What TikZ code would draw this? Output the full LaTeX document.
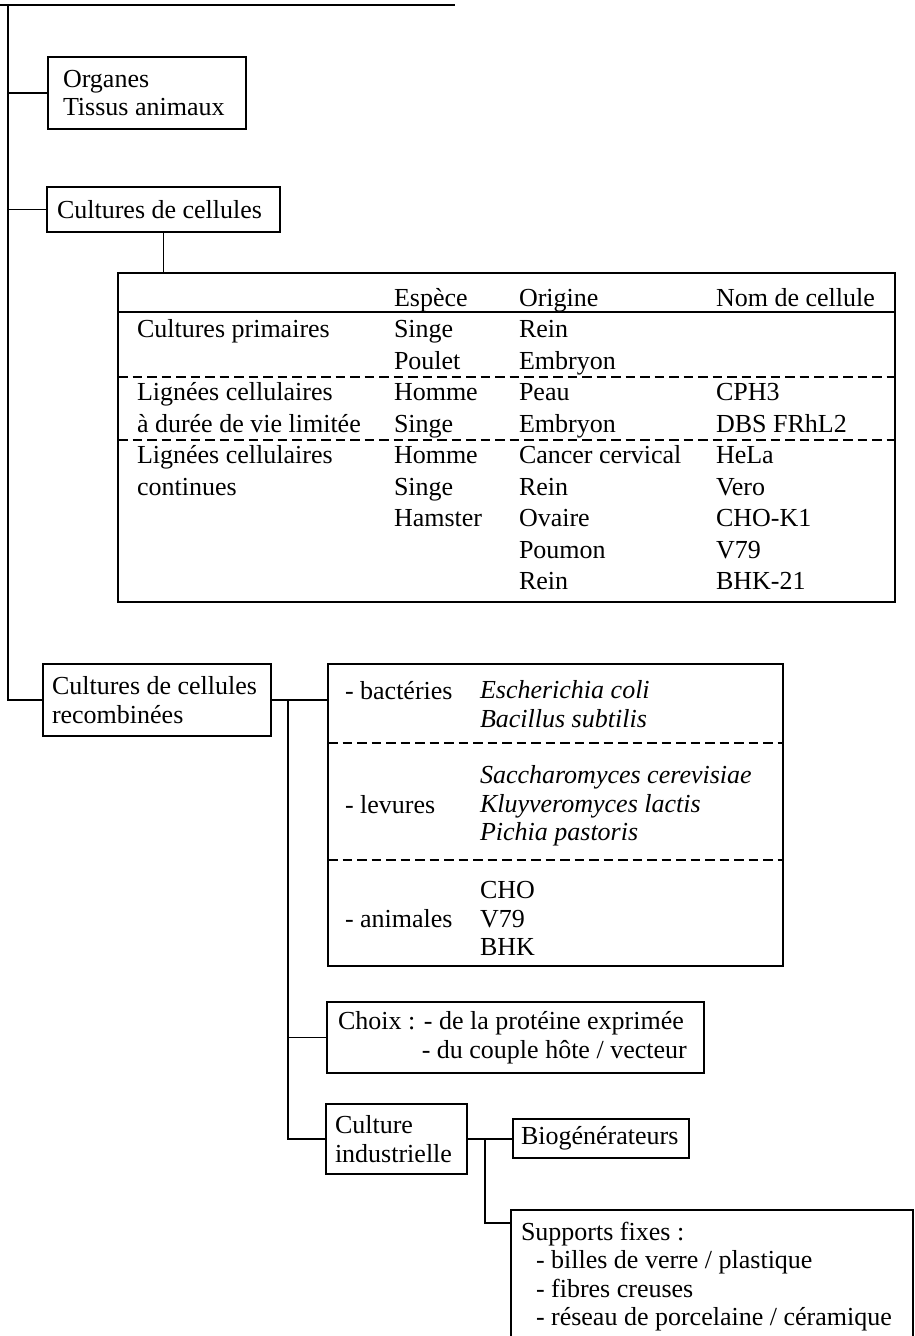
\documentclass[tikz,border=0pt]{standalone}
\usepackage{fontspec}
\setmainfont{Liberation Serif}
\usetikzlibrary{calc}
\def\epais{1.9pt} % line thickness
\tikzset{%
  boite/.style={draw, line width=\epais, anchor=north west, align=flush left,
    inner ysep=0pt, outer sep=0pt},%
  cell/.style={anchor=base west, inner sep=0pt, outer sep=0pt},%
  trait/.style={line width=\epais},%
  tiret/.style={line width=\epais, dash pattern=on 9.5pt off 5pt}%
}

\begin{document}
\begin{tikzpicture}[x=1pt, y=-1pt, font=\fontsize{26}{28.5}\selectfont] % culture supports

    \useasboundingbox (0,0) rectangle (915,1336);

    \def\pas{31.5} % row pitch of the table
    \def\yzero{306} % baseline of the header row

    \coordinate (gauche) at (0,5);
    \coordinate (droite) at (455,5);
    \coordinate (tronc) at (8,5);
    \draw[trait] (gauche) -- (droite);

    % first level
    \node[boite, minimum width=198pt, minimum height=72pt, text width=168pt,
      inner xsep=15pt] (org) at (48,57) {Organes\\Tissus animaux};
    \node[boite, minimum width=233pt, minimum height=45pt, text width=213pt,
      inner xsep=10pt] (cult) at (47,187) {Cultures de cellules};
    \node[boite, minimum width=228pt, minimum height=72pt, text width=210pt,
      inner xsep=9pt] (recomb) at (43,664) {Cultures de cellules\\recombinées};

    \draw[trait] (tronc) |- (recomb.west);
    \draw[trait] (tronc |- org.west) -- (org.west);
    \draw[trait] (tronc |- cult.west) -- (cult.west);

    % table of cell cultures
    \node[boite, minimum width=777pt, minimum height=329pt] (tableau) at (118,273) {};
    \draw[trait] (cult.south) -- (cult.south |- tableau.north);
    \draw[trait] ([yshift=-39pt]tableau.north west) -- ([yshift=-39pt]tableau.north east);
    \draw[tiret] ([yshift=-104pt]tableau.north west) -- ([yshift=-104pt]tableau.north east);
    \draw[tiret] ([yshift=-167pt]tableau.north west) -- ([yshift=-167pt]tableau.north east);

    \node[cell] (hEsp) at (394,\yzero) {Espèce};
    \node[cell] (hOri) at (519,\yzero) {Origine};
    \node[cell] (hNom) at (716,\yzero) {Nom de cellule};

    \foreach \lig/\txt in {1/Cultures primaires, 3/Lignées cellulaires,
      4/à durée de vie limitée, 5/Lignées cellulaires, 6/continues}
      \node[cell] (cat\lig) at (137,\yzero+\lig*\pas) {\txt};
    \foreach \lig/\txt in {1/Singe, 2/Poulet, 3/Homme, 4/Singe, 5/Homme,
      6/Singe, 7/Hamster}
      \node[cell] (esp\lig) at (394,\yzero+\lig*\pas) {\txt};
    \foreach \lig/\txt in {1/Rein, 2/Embryon, 3/Peau, 4/Embryon,
      5/Cancer cervical, 6/Rein, 7/Ovaire, 8/Poumon, 9/Rein}
      \node[cell] (ori\lig) at (519,\yzero+\lig*\pas) {\txt};
    \foreach \lig/\txt in {3/CPH3, 4/DBS FRhL2, 5/HeLa, 6/Vero, 7/CHO-K1,
      8/V79, 9/BHK-21}
      \node[cell] (nom\lig) at (716,\yzero+\lig*\pas) {\txt};

    % host cells
    \node[boite, minimum width=455pt, minimum height=302pt] (hotes) at (328,664) {};
    \draw[tiret] ([yshift=-79pt]hotes.north west) -- ([yshift=-79pt]hotes.north east);
    \draw[tiret] ([yshift=-196pt]hotes.north west) -- ([yshift=-196pt]hotes.north east);
    \draw[trait] (recomb.east) -- (recomb.east -| hotes.west);

    \node[cell] (bact) at (345,699) {- bactéries};
    \node[cell] (ecoli) at (480,698) {\textit{Escherichia coli}};
    \node[cell] (bsub) at (480,727) {\textit{Bacillus subtilis}};
    \node[cell] (lev) at (345,813) {- levures};
    \node[cell] (scer) at (480,783) {\textit{Saccharomyces cerevisiae}};
    \node[cell] (klac) at (480,812) {\textit{Kluyveromyces lactis}};
    \node[cell] (ppas) at (480,840) {\textit{Pichia pastoris}};
    \node[cell] (anim) at (345,927) {- animales};
    \node[cell] (cho) at (480,898) {CHO};
    \node[cell] (v79) at (480,927) {V79};
    \node[cell] (bhk) at (480,955) {BHK};

    % choice and industrial culture
    \node[boite, minimum width=377pt, minimum height=71pt, text width=355pt,
      inner xsep=11pt] (choix) at (327,1002)
      {\mbox{Choix : - de la protéine exprimée}\\
       \mbox{\hphantom{Choix :\ }- du couple hôte / vecteur}};
    \node[boite, minimum width=141pt, minimum height=70pt, text width=123pt,
      inner xsep=9pt] (indus) at (326,1104) {Culture\\industrielle};

    \coordinate (embr) at ($(recomb.east)!0.3!(recomb.east -| hotes.west)$);
    \draw[trait] (embr) |- (indus.west);
    \draw[trait] (embr |- choix.west) -- (choix.west);

    \node[boite, minimum width=176pt, minimum height=39pt, text width=160pt,
      inner xsep=8pt] (bio) at (513,1119) {Biogénérateurs};
    \node[boite, text width=382pt, inner xsep=10pt, inner ysep=12pt] (sup) at (511,1210)
      {Supports fixes :\\
       \hspace*{15pt}- billes de verre / plastique\\
       \hspace*{15pt}- fibres creuses\\
       \hspace*{15pt}- réseau de porcelaine / céramique};

    \draw[trait] (indus.east) -- (indus.east -| bio.west);
    \coordinate (embr2) at ($(indus.east)!0.4!(indus.east -| bio.west)$);
    \coordinate (supin) at ([yshift=-13pt]sup.north west);
    \draw[trait] (embr2) |- (supin);

\end{tikzpicture}
\end{document}
